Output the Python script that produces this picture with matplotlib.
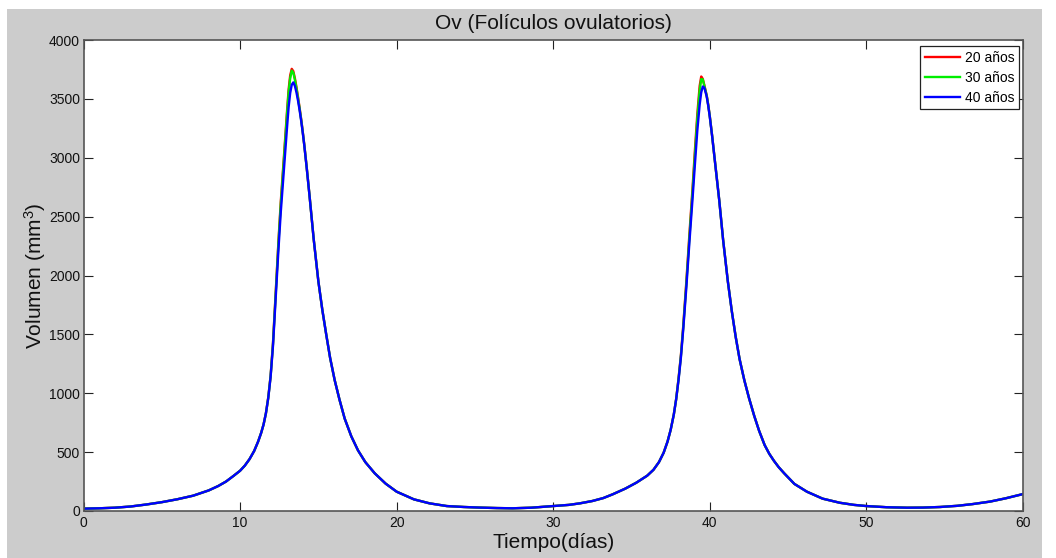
import matplotlib
matplotlib.use("Agg")
import matplotlib.pyplot as plt
from matplotlib.patches import Rectangle

plt.rcParams['font.family'] = ['Liberation Sans', 'DejaVu Sans']
plt.rcParams['mathtext.default'] = 'regular'

# ---------------- data ----------------
title = "Ov (Folículos ovulatorios)"
xlabel = "Tiempo(días)"
ylabel = "Volumen (mm$^{3}$)"
series_labels = ["20 años", "30 años", "40 años"]
series_colors = ["#ff0000", "#00ee00", "#0000ff"]

xticks = [0, 10, 20, 30, 40, 50, 60]
yticks = [0, 500, 1000, 1500, 2000, 2500, 3000, 3500, 4000]

t = [0, 1, 2, 3, 4, 5, 6, 7, 8, 8.6,
     9.1, 9.6, 10.0, 10.3, 10.6, 10.9, 11.15, 11.35, 11.5, 11.65,
     11.8, 11.95, 12.1, 12.3, 12.45, 12.6, 12.8, 13.0, 13.1, 13.2,
     13.3, 13.4, 13.5, 13.6, 13.7, 13.8, 13.9, 14.0, 14.1, 14.25,
     14.44, 14.7, 15.0, 15.25, 15.5, 15.75, 16.04, 16.35, 16.68, 17.1,
     17.53, 18.0, 18.6, 19.3, 20, 21.1, 22.1, 23.2, 24.3, 25.3,
     26.4, 27.4, 28.6, 30, 31, 31.7, 32.5, 33.2, 33.8, 34.6,
     35.3, 36.0, 36.4, 36.75, 37.05, 37.3, 37.5, 37.7, 37.85, 38.0,
     38.15, 38.3, 38.5, 38.7, 38.9, 39.05, 39.2, 39.35, 39.45, 39.55,
     39.65, 39.8, 39.9, 40.0, 40.15, 40.3, 40.45, 40.6, 40.85, 41.15,
     41.4, 41.65, 41.9, 42.2, 42.5, 42.83, 43.15, 43.5, 43.8, 44.1,
     44.4, 44.75, 45.4, 46.2, 47.2, 48.3, 49.2, 50, 51.3, 52.6,
     53.6, 54.7, 55.8, 56.8, 57.9, 58.9, 60]

ov_20 = [20, 23, 28, 38, 55, 75, 100, 130, 175, 212,
         250, 300, 342, 385, 440, 510, 589, 665, 735, 830,
         965, 1150, 1425, 1920, 2290, 2630, 3010, 3400, 3580, 3700,
         3755, 3735, 3675, 3600, 3515, 3425, 3330, 3225, 3110, 2925,
         2672, 2310, 1950, 1710, 1500, 1300, 1112, 945, 785, 635,
         515, 415, 320, 232, 164, 99, 65, 42, 34, 29,
         25, 23, 28, 42, 52, 65, 85, 110, 142, 190,
         240, 300, 350, 415, 495, 590, 690, 820, 950, 1125,
         1320, 1570, 1950, 2360, 2750, 3070, 3370, 3610, 3690, 3670,
         3615, 3530, 3448, 3350, 3183, 3000, 2820, 2640, 2300, 1950,
         1700, 1480, 1290, 1112, 960, 810, 680, 560, 485, 425,
         372, 320, 230, 164, 105, 70, 52, 42, 32, 28,
         29, 34, 44, 59, 80, 108, 144]

ov_30 = [20, 23, 28, 38, 55, 75, 100, 130, 175, 212,
         250, 300, 342, 385, 440, 510, 589, 665, 735, 830,
         962, 1145, 1415, 1905, 2275, 2605, 2985, 3375, 3555, 3675,
         3740, 3722, 3662, 3588, 3505, 3417, 3323, 3220, 3108, 2922,
         2671, 2310, 1950, 1710, 1500, 1300, 1112, 945, 785, 635,
         515, 415, 320, 232, 164, 99, 65, 42, 34, 29,
         25, 23, 28, 42, 52, 65, 85, 110, 142, 190,
         240, 300, 350, 415, 495, 590, 690, 820, 950, 1118,
         1310, 1555, 1930, 2330, 2720, 3030, 3330, 3570, 3668, 3665,
         3610, 3527, 3445, 3348, 3182, 3000, 2820, 2640, 2300, 1950,
         1700, 1480, 1290, 1112, 960, 810, 680, 560, 485, 425,
         372, 320, 230, 164, 105, 70, 52, 42, 32, 28,
         29, 34, 44, 59, 80, 108, 144]

ov_40 = [20, 23, 28, 38, 55, 75, 100, 130, 175, 212,
         250, 300, 342, 385, 440, 510, 589, 665, 735, 830,
         960, 1140, 1400, 1870, 2220, 2540, 2900, 3260, 3430, 3550,
         3620, 3640, 3610, 3555, 3485, 3405, 3315, 3215, 3105, 2920,
         2670, 2310, 1950, 1710, 1500, 1300, 1112, 945, 785, 635,
         515, 415, 320, 232, 164, 99, 65, 42, 34, 29,
         25, 23, 28, 42, 52, 65, 85, 110, 142, 190,
         240, 300, 350, 415, 495, 590, 690, 820, 950, 1110,
         1300, 1540, 1900, 2290, 2660, 2950, 3230, 3450, 3555, 3605,
         3595, 3520, 3440, 3345, 3180, 3000, 2820, 2640, 2300, 1950,
         1700, 1480, 1290, 1112, 960, 810, 680, 560, 485, 425,
         372, 320, 230, 164, 105, 70, 52, 42, 32, 28,
         29, 34, 44, 59, 80, 108, 144]

series = [ov_20, ov_30, ov_40]

# ---------------- figure ----------------
W, H = 1056, 558
fig = plt.figure(figsize=(W / 100, H / 100), dpi=100, facecolor="white")
fig.patches.append(Rectangle((7 / W, 0), (1042 - 7) / W, (H - 9) / H,
                             transform=fig.transFigure, facecolor="#cccccc",
                             edgecolor="none", zorder=-10))

x0, x1, ytop, ybot = 83.5, 1023, 40, 511
ax = fig.add_axes([x0 / W, (H - ybot) / H, (x1 - x0) / W, (ybot - ytop) / H])
ax.set_facecolor("white")

for vals, lab, col in zip(series, series_labels, series_colors):
    ax.plot(t, vals, color=col, lw=1.7, label=lab, solid_joinstyle="round")

ax.set_xlim(0, 60)
ax.set_ylim(0, 4000)
ax.set_xticks(xticks)
ax.set_yticks(yticks)
ax.tick_params(direction="in", length=6.5, width=0.8, color="#222222",
               labelsize=10, labelcolor="#111111", top=True, right=True)
ax.tick_params(axis="y", pad=2.5)
ax.tick_params(axis="x", pad=3.5)
for s in ax.spines.values():
    s.set_color("#555555")
    s.set_linewidth(1.2)

ax.set_title(title, fontsize=15, pad=8, color="#111111")
ax.set_xlabel(xlabel, fontsize=15, labelpad=2, color="#111111")
ax.set_ylabel(ylabel, fontsize=15, labelpad=1, color="#111111")

leg = ax.legend(loc="upper right", bbox_to_anchor=(1 - 4 / 940, 1 - 6 / 471),
                borderaxespad=0, fontsize=10, fancybox=False, framealpha=1,
                edgecolor="#222222", handlelength=2.5, handletextpad=0.35,
                labelspacing=0.42, borderpad=0.35)
leg.get_frame().set_linewidth(0.9)

fig.savefig("out.png", dpi=100, facecolor=fig.get_facecolor())
